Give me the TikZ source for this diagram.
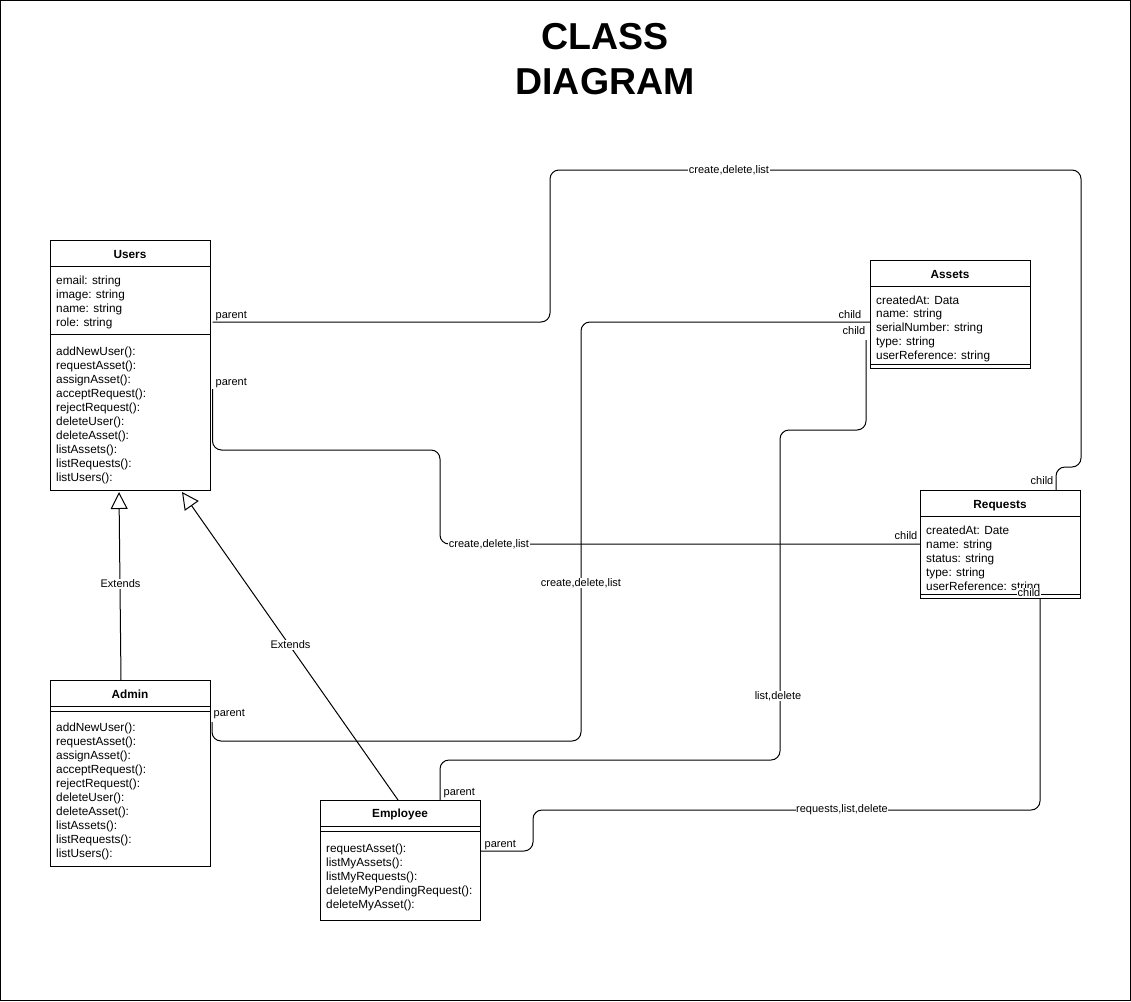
\documentclass[tikz,border=0pt]{standalone}
\usepackage{fontspec}
\setmainfont{Liberation Sans}
\usetikzlibrary{arrows.meta,calc}
\begin{document}
\begin{tikzpicture}[x=1pt,y=-1pt,
  box/.style={draw, line width=1pt, inner sep=0, outer sep=0, anchor=north west},
  sepline/.style={line width=1pt},
  txt/.style={font=\fontsize{11.8}{14}\selectfont, inner sep=0, anchor=base west},
  ttl/.style={font=\fontsize{11.8}{14}\selectfont\bfseries, inner sep=0, anchor=base},
  conn/.style={line width=1pt, rounded corners=9pt},
  lbl/.style={font=\fontsize{11}{13}\selectfont, inner sep=0.5pt},
  elbl/.style={lbl, fill=white},
  ext/.style={line width=1pt, -{Triangle[open, length=17pt, width=17pt]}},
]
\useasboundingbox (0,0) rectangle (1131,1001);
\draw[line width=1pt] (0.5,0.5) rectangle (1130.5,1000.5);

% title
\node[font=\fontsize{37.5}{45}\selectfont\bfseries, align=center, inner sep=0] (title) at (605,59.5) {CLASS\\DIAGRAM};

% Users
\node[box, minimum width=160pt, minimum height=250pt] (users) at (50,240) {};
\draw[sepline] ($(users.north west)+(0,26)$) -- ($(users.north east)+(0,26)$);
\draw[sepline] ($(users.north west)+(0,94)$) -- ($(users.north east)+(0,94)$);
\node[ttl] (usersT) at (130,258) {Users};
\foreach \t [count=\i] in {email: string, image: string, name: string, role: string}
  \node[txt] (ua\i) at (56,{270+14*\i}) {\t};
\foreach \t [count=\i] in {addNewUser():, requestAsset():, assignAsset():, acceptRequest():, rejectRequest():, deleteUser():, deleteAsset():, listAssets():, listRequests():, listUsers():}
  \node[txt] (um\i) at (56,{341.5+14*\i}) {\t};

% Assets
\node[box, minimum width=160pt, minimum height=108.5pt] (assets) at (870,260) {};
\draw[sepline] ($(assets.north west)+(0,26)$) -- ($(assets.north east)+(0,26)$);
\draw[sepline] ($(assets.north west)+(0,104)$) -- ($(assets.north east)+(0,104)$);
\node[ttl] (assetsT) at (950,278) {Assets};
\foreach \t [count=\i] in {createdAt: Data, name: string, serialNumber: string, type: string, userReference: string}
  \node[txt] (aa\i) at (876,{290.2+13.8*\i}) {\t};

% Requests
\node[box, minimum width=160pt, minimum height=108pt] (requests) at (920,490) {};
\draw[sepline] ($(requests.north west)+(0,26)$) -- ($(requests.north east)+(0,26)$);
\draw[sepline] ($(requests.north west)+(0,104)$) -- ($(requests.north east)+(0,104)$);
\node[ttl] (requestsT) at (1000,508) {Requests};
\foreach \t [count=\i] in {createdAt: Date, name: string, status: string, type: string, userReference: string}
  \node[txt] (ra\i) at (926,{520+14*\i}) {\t};

% Admin
\node[box, minimum width=160pt, minimum height=186pt] (admin) at (50,680) {};
\draw[sepline] ($(admin.north west)+(0,26)$) -- ($(admin.north east)+(0,26)$);
\draw[sepline] ($(admin.north west)+(0,31)$) -- ($(admin.north east)+(0,31)$);
\node[ttl] (adminT) at (130,698) {Admin};
\foreach \t [count=\i] in {addNewUser():, requestAsset():, assignAsset():, acceptRequest():, rejectRequest():, deleteUser():, deleteAsset():, listAssets():, listRequests():, listUsers():}
  \node[txt] (am\i) at (56,{717+14*\i}) {\t};

% Employee
\node[box, minimum width=160pt, minimum height=120pt] (employee) at (320,800) {};
\draw[sepline] ($(employee.north west)+(0,26)$) -- ($(employee.north east)+(0,26)$);
\draw[sepline] ($(employee.north west)+(0,31)$) -- ($(employee.north east)+(0,31)$);
\node[ttl] (employeeT) at (400,817) {Employee};
\foreach \t [count=\i] in {requestAsset():, listMyAssets():, listMyRequests():, deleteMyPendingRequest():, deleteMyAsset():}
  \node[txt] (em\i) at (326,{838+14*\i}) {\t};

% connectors
\draw[conn] ($(users.north east)+(2.5,82)$) -- (550,322) -- (550,170) -- (1081,170) -- (1081,467) -- (1056,467) -- ($(requests.north west)+(136,0)$);
\draw[conn] ($(users.north east)+(2.5,149)$) -- (212.5,450) -- (440,450) -- (440,544) -- ($(requests.north west)+(0,54)$);
\draw[conn] ($(assets.north west)+(0,62)$) -- (581,322) -- (581,741) -- (212,741) -- ($(admin.north east)+(2,42)$);
\draw[conn] ($(assets.north west)+(-4,80)$) -- (866,430) -- (780,430) -- (780,760) -- (440,760) -- ($(employee.north west)+(120,0)$);
\draw[conn] ($(requests.south west)+(120,0)$) -- (1040,810) -- (533,810) -- (533,851) -- ($(employee.north east)+(1,51)$);

% inheritance
\draw[ext] ($(admin.north west)+(71,0)$) -- ($(users.south west)+(69,2)$);
\draw[ext] ($(employee.north west)+(78,0)$) -- ($(users.south west)+(132,2)$);
\node[elbl] (ext1) at (120.5,584) {Extends};
\node[elbl] (ext2) at (290.5,645) {Extends};

% labels
\node[lbl, anchor=base west] (p1) at (215,318) {parent};
\node[lbl, anchor=base west] (p2) at (215,385) {parent};
\node[lbl, anchor=base west] (p3) at (213,716) {parent};
\node[lbl, anchor=base west] (p4) at (443,795) {parent};
\node[lbl, anchor=base west] (p5) at (484,847) {parent};
\node[lbl, anchor=base east] (c1) at (862,318) {child};
\node[lbl, anchor=base east] (c2) at (866,334) {child};
\node[lbl, anchor=base east] (c3) at (918,539) {child};
\node[lbl, anchor=base east] (c4) at (1054,484) {child};
\node[elbl] (c5) at (1029,593) {child};
\node[elbl] (l1) at (729,170) {create,delete,list};
\node[elbl] (l2) at (489,544) {create,delete,list};
\node[elbl] (l3) at (581,583) {create,delete,list};
\node[elbl] (l4) at (778,696) {list,delete};
\node[elbl] (l5) at (842,810) {requests,list,delete};
\end{tikzpicture}
\end{document}
